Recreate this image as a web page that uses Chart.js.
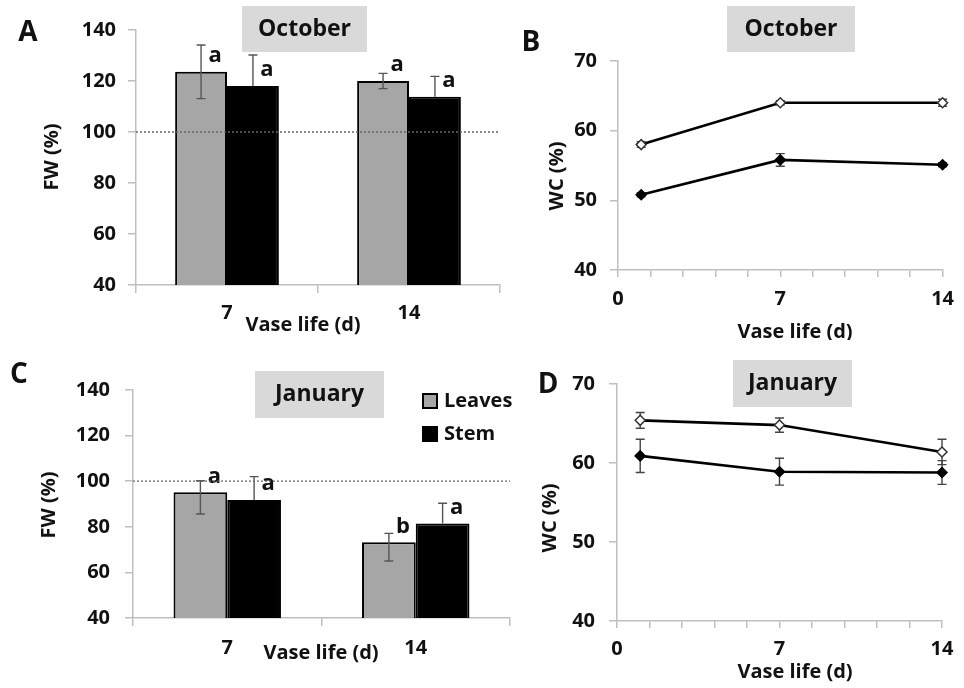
<!DOCTYPE html>
<html>
<head>
<meta charset="utf-8">
<title>Fresh weight and water content during vase life</title>
<script src="https://cdn.jsdelivr.net/npm/chart.js@4.4.1/dist/chart.umd.min.js"></script>
<style>
  body { margin: 0; background: #fff; }
  #wrap { position: relative; width: 964px; height: 688px; }
  canvas { position: absolute; }
</style>
</head>
<body>
<div id="wrap">
  <canvas id="panelA" width="510" height="340" style="left:0;top:0"></canvas>
  <canvas id="panelB" width="454" height="340" style="left:510px;top:0"></canvas>
  <canvas id="panelC" width="520" height="348" style="left:0;top:340px"></canvas>
  <canvas id="panelD" width="444" height="348" style="left:520px;top:340px"></canvas>
</div>
<script>
// Fresh weight (% of initial) at 7 and 14 days of vase life
const vaseDays = ['7', '14'];
const fwOctLeaves = [123.6, 120.0];
const fwOctLeavesErr = [10.5, 3.0];
const fwOctStem = [118.0, 113.8];
const fwOctStemErr = [12.2, 8.0];
const fwOctLeavesSig = ['a', 'a'];
const fwOctStemSig = ['a', 'a'];

const fwJanLeaves = [95.1, 73.2];
const fwJanLeavesErrUp = [5.1, 3.9];
const fwJanLeavesErrDown = [9.5, 8.2];
const fwJanStem = [91.8, 81.5];
const fwJanStemErr = [10.2, 8.8];
const fwJanLeavesSig = ['a', 'b'];
const fwJanStemSig = ['a', 'a'];

// Water content (%) over vase life
const wcDays = [1, 7, 14];
const wcOctLeaves = [58.0, 64.0, 64.0];
const wcOctLeavesErr = [0.4, 0.3, 0.5];
const wcOctStem = [50.8, 55.8, 55.1];
const wcOctStemErr = [0.3, 0.9, 0.3];
const wcJanLeaves = [65.4, 64.8, 61.4];
const wcJanLeavesErr = [1.0, 0.9, 1.6];
const wcJanStem = [60.9, 58.9, 58.8];
const wcJanStemErr = [2.1, 1.7, 1.5];

const fwRange = [40, 140, 20];
const wcRange = [40, 70, 10];
const wcDayLabels = [0, 7, 14];
const initialFW = 100;

const fontFamily = '"Open Sans", Lato, sans-serif';
const textColor = '#111';
const axisColor = '#bfbfbf';
const leafGray = '#a6a6a6';

Chart.defaults.font.family = fontFamily;
Chart.defaults.font.weight = 'bold';
Chart.defaults.color = textColor;

const font = px => 'bold ' + px + 'px ' + fontFamily;

// error whiskers + significance letters, read from dataset fields
const errorBars = {
  id: 'errorBars',
  beforeDatasetsDraw(chart) { if (chart.config.type === 'line') drawErrors(chart); },
  afterDatasetsDraw(chart) { if (chart.config.type === 'bar') drawErrors(chart); }
};

function drawErrors(chart) {
  const ctx = chart.ctx;
  const y = chart.scales.y;
  chart.data.datasets.forEach((ds, i) => {
    const meta = chart.getDatasetMeta(i);
    meta.data.forEach((el, j) => {
      const raw = ds.data[j];
      const v = typeof raw === 'object' ? raw.y : raw;
      const mid = y.getPixelForValue(v);
      const top = y.getPixelForValue(v + ds.errUp[j]);
      const bot = y.getPixelForValue(v - ds.errDown[j]);
      const cap = 4.5;
      ctx.save();
      ctx.lineWidth = 1.4;
      ctx.strokeStyle = ds.errColor;
      ctx.beginPath();
      ctx.moveTo(el.x, top); ctx.lineTo(el.x, mid);
      ctx.moveTo(el.x - cap, top); ctx.lineTo(el.x + cap, top);
      // lower whisker disappears inside the black stem bars
      if (!ds.lowerHidden) {
        ctx.moveTo(el.x, mid); ctx.lineTo(el.x, bot);
        ctx.moveTo(el.x - cap, bot); ctx.lineTo(el.x + cap, bot);
      }
      ctx.stroke();
      if (ds.sig) {
        ctx.fillStyle = textColor;
        ctx.font = font(22);
        ctx.textAlign = 'center';
        ctx.textBaseline = 'middle';
        ctx.fillText(ds.sig[j], el.x + 14, el.y - 16);
      }
      ctx.restore();
    });
  });
}

// panel letter, month box, axis titles, reference line, legend
const panelDecor = {
  id: 'panelDecor',
  afterDatasetsDraw(chart, args, o) {
    const ctx = chart.ctx;
    const area = chart.chartArea;
    ctx.save();
    if (o.refLine) {
      const py = chart.scales.y.getPixelForValue(o.refLine);
      ctx.strokeStyle = '#666';
      ctx.lineWidth = 1.3;
      ctx.setLineDash([2, 2]);
      ctx.beginPath();
      ctx.moveTo(area.left, py);
      ctx.lineTo(area.right, py);
      ctx.stroke();
      ctx.setLineDash([]);
    }
    ctx.fillStyle = '#d9d9d9';
    ctx.fillRect(o.box.x, o.box.y, o.box.w, o.box.h);
    ctx.fillStyle = textColor;
    ctx.textAlign = 'center';
    ctx.textBaseline = 'middle';
    ctx.font = font(23);
    ctx.fillText(o.box.text, o.box.x + o.box.w / 2, o.box.y + o.box.h / 2);
    ctx.font = font(28);
    ctx.fillText(o.letter.text, o.letter.x, o.letter.y);
    ctx.font = font(20);
    ctx.fillText(o.xTitle.text, o.xTitle.x, o.xTitle.y);
    ctx.save();
    ctx.translate(o.yTitle.x, o.yTitle.y);
    ctx.rotate(-Math.PI / 2);
    ctx.fillText(o.yTitle.text, 0, 0);
    ctx.restore();
    if (o.legend) {
      ctx.textAlign = 'left';
      chart.data.datasets.forEach((ds, i) => {
        const ly = o.legend.y + i * 33;
        ctx.fillStyle = ds.backgroundColor;
        ctx.fillRect(o.legend.x, ly - 7, 14, 14);
        ctx.strokeStyle = '#000';
        ctx.lineWidth = 2;
        ctx.strokeRect(o.legend.x, ly - 7, 14, 14);
        ctx.fillStyle = textColor;
        ctx.fillText(ds.label, o.legend.x + 21, ly);
      });
    }
    ctx.restore();
  }
};

function yAxis(range, pad, frame) {
  return {
    min: range[0], max: range[1],
    border: { color: axisColor, width: 1.5 },
    grid: { drawOnChartArea: false, tickLength: 8, color: axisColor, lineWidth: 1.5 },
    ticks: { stepSize: range[2], padding: pad, font: { size: 20, weight: 'bold' }, color: textColor },
    afterFit(s) { s.width = frame.left; }
  };
}

function layoutFor(frame, canvas) {
  return { padding: { left: 0, top: frame.top, right: canvas.width - frame.right, bottom: 0 } };
}

function barPanel(id, frame, decor, leaves, stem) {
  const canvas = document.getElementById(id);
  return new Chart(canvas, {
    type: 'bar',
    data: {
      labels: vaseDays,
      datasets: [
        Object.assign({ label: 'Leaves', backgroundColor: leafGray, borderColor: '#000', borderWidth: 2,
          errColor: '#555' }, leaves),
        Object.assign({ label: 'Stem', backgroundColor: '#000', borderColor: '#000', borderWidth: 2,
          errColor: '#555', lowerHidden: true }, stem)
      ]
    },
    options: {
      responsive: false,
      animation: false,
      layout: layoutFor(frame, canvas),
      datasets: { bar: { categoryPercentage: 0.57, barPercentage: 1.0 } },
      scales: {
        x: {
          border: { color: axisColor, width: 1.5 },
          grid: { drawOnChartArea: false, tickLength: 8, color: axisColor, lineWidth: 1.5, offset: true },
          ticks: { padding: frame.xPad, font: { size: 20, weight: 'bold' }, color: textColor },
          afterFit(s) { s.height = canvas.height - frame.bottom; }
        },
        y: yAxis(fwRange, frame.yPad, frame)
      },
      plugins: { legend: { display: false }, tooltip: { enabled: false }, panelDecor: decor }
    },
    plugins: [errorBars, panelDecor]
  });
}

function linePanel(id, frame, decor, leaves, leavesErr, stem, stemErr) {
  const canvas = document.getElementById(id);
  const pts = vals => wcDays.map((d, i) => ({ x: d, y: vals[i] }));
  const common = { borderColor: '#000', borderWidth: 2.6, pointStyle: 'rectRot', pointRadius: 5,
    pointBorderWidth: 1.5, tension: 0, clip: false, errColor: '#444' };
  return new Chart(canvas, {
    type: 'line',
    data: {
      datasets: [
        Object.assign({}, common, { label: 'Leaves', data: pts(leaves), errUp: leavesErr, errDown: leavesErr,
          pointBackgroundColor: '#fff', pointBorderColor: '#333' }),
        Object.assign({}, common, { label: 'Stem', data: pts(stem), errUp: stemErr, errDown: stemErr,
          pointBackgroundColor: '#000', pointBorderColor: '#000' })
      ]
    },
    options: {
      responsive: false,
      animation: false,
      layout: layoutFor(frame, canvas),
      scales: {
        x: {
          type: 'linear', min: 0, max: 14,
          border: { color: axisColor, width: 1.5 },
          grid: { drawOnChartArea: false, tickLength: 7, color: axisColor, lineWidth: 1.5 },
          ticks: {
            stepSize: 1.4, autoSkip: false, maxRotation: 0, padding: frame.xPad,
            font: { size: 20, weight: 'bold' }, color: textColor,
            callback: v => wcDayLabels.some(d => Math.abs(d - v) < 0.01) ? Math.round(v) : ''
          },
          afterFit(s) { s.height = canvas.height - frame.bottom; }
        },
        y: yAxis(wcRange, frame.yPad, frame)
      },
      plugins: { legend: { display: false }, tooltip: { enabled: false }, panelDecor: decor }
    },
    plugins: [errorBars, panelDecor]
  });
}

// A: fresh weight, October
barPanel('panelA',
  { left: 136, right: 500, top: 30, bottom: 285, xPad: 8, yPad: 12 },
  { letter: { text: 'A', x: 28, y: 33 },
    box: { text: 'October', x: 242, y: 6, w: 125, h: 46 },
    xTitle: { text: 'Vase life (d)', x: 303, y: 325 },
    yTitle: { text: 'FW (%)', x: 52, y: 157 },
    refLine: initialFW },
  { data: fwOctLeaves, errUp: fwOctLeavesErr, errDown: fwOctLeavesErr, sig: fwOctLeavesSig },
  { data: fwOctStem, errUp: fwOctStemErr, errDown: fwOctStemErr, sig: fwOctStemSig });

// B: water content, October
linePanel('panelB',
  { left: 108, right: 440, top: 61, bottom: 270, xPad: 10, yPad: 13 },
  { letter: { text: 'B', x: 21, y: 43 },
    box: { text: 'October', x: 217, y: 6, w: 128, h: 46 },
    xTitle: { text: 'Vase life (d)', x: 285, y: 332 },
    yTitle: { text: 'WC (%)', x: 47, y: 176 } },
  wcOctLeaves, wcOctLeavesErr, wcOctStem, wcOctStemErr);

// C: fresh weight, January
barPanel('panelC',
  { left: 133, right: 510, top: 50, bottom: 278, xPad: 10, yPad: 15 },
  { letter: { text: 'C', x: 19, y: 35 },
    box: { text: 'January', x: 255, y: 31, w: 129, h: 47 },
    xTitle: { text: 'Vase life (d)', x: 321, y: 313 },
    yTitle: { text: 'FW (%)', x: 49, y: 165 },
    refLine: initialFW,
    legend: { x: 423, y: 61 } },
  { data: fwJanLeaves, errUp: fwJanLeavesErrUp, errDown: fwJanLeavesErrDown, sig: fwJanLeavesSig },
  { data: fwJanStem, errUp: fwJanStemErr, errDown: fwJanStemErr, sig: fwJanStemSig });

// D: water content, January
linePanel('panelD',
  { left: 97, right: 422, top: 44, bottom: 281, xPad: 9, yPad: 14 },
  { letter: { text: 'D', x: 28, y: 45 },
    box: { text: 'January', x: 213, y: 20, w: 119, h: 47 },
    xTitle: { text: 'Vase life (d)', x: 275, y: 332 },
    yTitle: { text: 'WC (%)', x: 30, y: 178 } },
  wcJanLeaves, wcJanLeavesErr, wcJanStem, wcJanStemErr);
</script>
</body>
</html>
